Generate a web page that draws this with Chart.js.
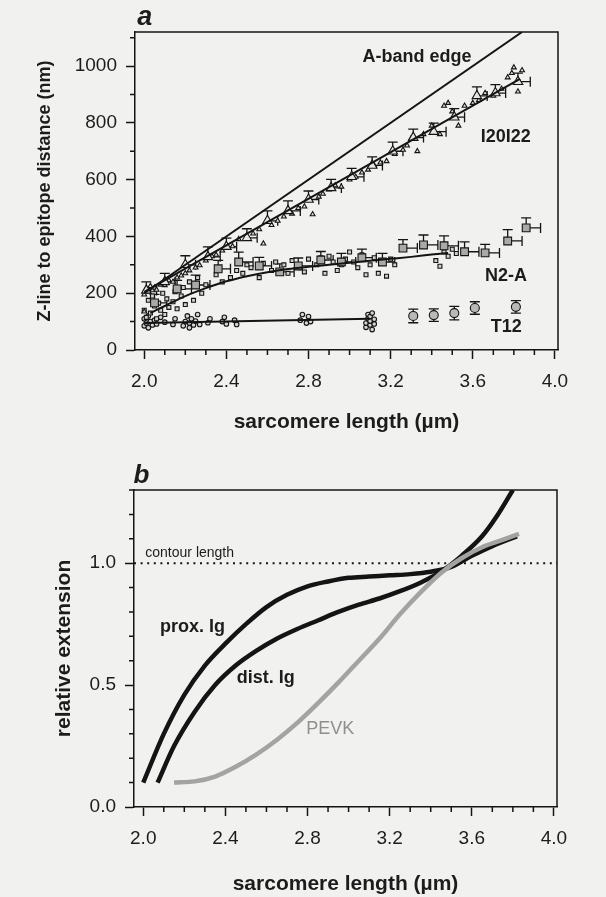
<!DOCTYPE html>
<html>
<head>
<meta charset="utf-8">
<script src="https://cdn.jsdelivr.net/npm/chart.js@4"></script>
<style>
  body { margin: 0; background: #f1f1ef; overflow: hidden; }
  #wrap { position: relative; width: 606px; height: 897px; }
  canvas { position: absolute; left: 0; }
</style>
</head>
<body>
<div id="wrap">
  <canvas id="chartA" width="606" height="445" style="top:0"></canvas>
  <canvas id="chartB" width="606" height="455" style="top:445px"></canvas>
</div>
<script>
// --- axis ticks ---
const xTickValues = [2.0, 2.1, 2.2, 2.3, 2.4, 2.5, 2.6, 2.7, 2.8, 2.9, 3.0, 3.1, 3.2, 3.3, 3.4, 3.5, 3.6, 3.7, 3.8, 3.9, 4.0];
const xTickLabels = ['2.0', '2.4', '2.8', '3.2', '3.6', '4.0'];
const yTickValuesA = [0, 100, 200, 300, 400, 500, 600, 700, 800, 900, 1000, 1100];
const yTickLabelsA = ['0', '200', '400', '600', '800', '1000'];
const yTickValuesB = [0, 0.1, 0.2, 0.3, 0.4, 0.5, 0.6, 0.7, 0.8, 0.9, 1.0, 1.1, 1.2, 1.3];
const yTickLabelsB = ['0.0', '0.5', '1.0'];

// --- panel a: fitted lines ---
const aBandX = [2.0, 3.84];
const aBandY = [200, 1120];
const i20FitX = [2.0, 3.83];
const i20FitY = [205, 955];
const n2aFitX = [2.03, 2.1, 2.2, 2.3, 2.4, 2.5, 2.6, 2.7, 2.8, 2.9, 3.0, 3.1, 3.2, 3.3, 3.4, 3.48];
const n2aFitY = [130, 155, 190, 218, 242, 260, 274, 285, 293, 300, 307, 314, 321, 328, 336, 342];
const t12FitX = [2.0, 3.1];
const t12FitY = [95, 110];

// --- panel a: means with error bars ---
const i20MeanX = [2.01, 2.10, 2.20, 2.31, 2.40, 2.50, 2.60, 2.70, 2.80, 2.91, 3.01, 3.11, 3.21, 3.31, 3.41, 3.51, 3.62, 3.71, 3.82];
const i20MeanY = [210, 240, 300, 328, 364, 395, 455, 490, 530, 571, 610, 650, 700, 748, 769, 820, 895, 905, 945];
const i20ErrUp = [30, 30, 32, 35, 30, 32, 35, 35, 30, 30, 30, 30, 32, 30, 30, 30, 32, 30, 30];
const i20ErrRight = [0.05, 0.05, 0.05, 0.06, 0.05, 0.05, 0.05, 0.06, 0.05, 0.05, 0.06, 0.05, 0.05, 0.05, 0.06, 0.05, 0.05, 0.05, 0.06];

const n2aMeanX = [2.05, 2.16, 2.25, 2.36, 2.46, 2.56, 2.66, 2.75, 2.86, 2.96, 3.06, 3.16, 3.26, 3.36, 3.46, 3.56, 3.66, 3.77, 3.86];
const n2aMeanY = [166, 215, 229, 286, 310, 296, 275, 296, 317, 310, 325, 310, 359, 370, 367, 346, 342, 384, 430];
const n2aErrUp = [30, 30, 35, 30, 35, 30, 28, 28, 30, 30, 30, 30, 30, 35, 35, 35, 30, 40, 35];
const n2aErrRight = [0.06, 0.07, 0.07, 0.06, 0.07, 0.06, 0.07, 0.07, 0.06, 0.07, 0.07, 0.06, 0.07, 0.07, 0.07, 0.07, 0.07, 0.07, 0.07];

const t12MeanX = [3.31, 3.41, 3.51, 3.61, 3.81];
const t12MeanY = [120, 123, 130, 148, 152];
const t12Err = [24, 22, 24, 22, 22];

// --- panel a: individual measurements ---
const i20PtsX = [2.00, 2.01, 2.02, 2.03, 2.04, 2.05, 2.06, 2.08, 2.10, 2.12, 2.14, 2.16, 2.18, 2.20, 2.22, 2.25, 2.27, 2.30, 2.33, 2.35, 2.38, 2.40, 2.43, 2.46, 2.50, 2.53, 2.56, 2.58, 2.62, 2.65, 2.68, 2.72, 2.75, 2.78, 2.82, 2.85, 2.87, 2.90, 2.93, 2.96, 3.00, 3.03, 3.06, 3.09, 3.12, 3.15, 3.18, 3.22, 3.26, 3.28, 3.30, 3.33, 3.36, 3.40, 3.44, 3.46, 3.48, 3.50, 3.53, 3.56, 3.60, 3.63, 3.66, 3.70, 3.74, 3.77, 3.79, 3.80, 3.82, 3.83, 3.84, 2.00];
const i20PtsY = [195, 215, 205, 225, 210, 220, 212, 230, 228, 245, 240, 255, 262, 270, 280, 290, 298, 315, 330, 335, 350, 360, 365, 390, 395, 410, 425, 375, 440, 455, 470, 480, 500, 505, 478, 540, 550, 565, 580, 575, 600, 610, 625, 635, 650, 660, 665, 690, 705, 720, 745, 700, 760, 790, 760, 860, 870, 840, 790, 860, 870, 880, 905, 895, 920, 960, 975, 995, 910, 940, 985, 135];

const n2aPtsX = [2.00, 2.01, 2.02, 2.03, 2.04, 2.05, 2.06, 2.07, 2.08, 2.09, 2.10, 2.11, 2.12, 2.14, 2.15, 2.16, 2.18, 2.19, 2.20, 2.22, 2.24, 2.26, 2.28, 2.30, 2.35, 2.38, 2.42, 2.45, 2.48, 2.50, 2.52, 2.56, 2.58, 2.62, 2.64, 2.68, 2.70, 2.72, 2.76, 2.78, 2.80, 2.84, 2.86, 2.88, 2.90, 2.92, 2.94, 2.96, 2.98, 3.00, 3.02, 3.04, 3.06, 3.08, 3.10, 3.12, 3.14, 3.15, 3.18, 3.20, 3.22, 3.42, 3.44, 3.46, 3.48, 3.50, 3.52];
const n2aPtsY = [140, 115, 175, 130, 190, 155, 110, 165, 140, 200, 125, 180, 150, 170, 205, 145, 190, 220, 160, 240, 175, 255, 200, 230, 265, 240, 255, 280, 270, 300, 290, 255, 305, 280, 310, 300, 270, 315, 290, 275, 320, 300, 325, 270, 330, 310, 280, 300, 320, 345, 310, 290, 335, 265, 300, 325, 270, 315, 260, 320, 300, 315, 295, 345, 330, 355, 340];

const t12PtsX = [2.00, 2.00, 2.01, 2.02, 2.02, 2.03, 2.04, 2.05, 2.06, 2.08, 2.10, 2.14, 2.15, 2.19, 2.20, 2.21, 2.22, 2.22, 2.23, 2.24, 2.25, 2.26, 2.27, 2.31, 2.32, 2.38, 2.39, 2.40, 2.44, 2.45, 2.76, 2.77, 2.79, 2.80, 2.81, 3.08, 3.08, 3.09, 3.09, 3.10, 3.10, 3.10, 3.11, 3.11, 3.12, 3.12];
const t12PtsY = [85, 110, 95, 120, 78, 100, 88, 105, 92, 115, 98, 90, 110, 85, 100, 120, 78, 95, 110, 88, 102, 125, 90, 96, 110, 100, 115, 92, 105, 90, 105, 125, 95, 118, 100, 80, 95, 110, 125, 88, 102, 118, 72, 130, 92, 108];

// --- panel b: relative extension curves ---
const contourLength = 1.0;
const proxX = [2.0, 2.1, 2.2, 2.3, 2.4, 2.5, 2.6, 2.7, 2.8, 2.9, 3.0, 3.1, 3.2, 3.3, 3.4, 3.5, 3.6, 3.7, 3.82];
const proxY = [0.10, 0.30, 0.46, 0.58, 0.67, 0.75, 0.82, 0.87, 0.905, 0.925, 0.94, 0.945, 0.95, 0.955, 0.965, 0.985, 1.03, 1.07, 1.11];
const distX = [2.07, 2.15, 2.25, 2.35, 2.45, 2.55, 2.65, 2.75, 2.85, 2.95, 3.05, 3.15, 3.25, 3.35, 3.45, 3.55, 3.65, 3.72, 3.80];
const distY = [0.10, 0.25, 0.39, 0.50, 0.58, 0.64, 0.69, 0.73, 0.765, 0.80, 0.83, 0.855, 0.885, 0.92, 0.965, 1.03, 1.11, 1.19, 1.30];
const pevkX = [2.15, 2.25, 2.35, 2.45, 2.55, 2.65, 2.75, 2.85, 2.95, 3.05, 3.15, 3.25, 3.35, 3.45, 3.55, 3.65, 3.75, 3.83];
const pevkY = [0.10, 0.105, 0.125, 0.165, 0.215, 0.275, 0.345, 0.425, 0.51, 0.60, 0.69, 0.79, 0.88, 0.96, 1.02, 1.065, 1.095, 1.12];

const X_MIN = 1.955, X_MAX = 4.015;
const FONT = 'Liberation Sans, Arial, sans-serif';
const INK = '#141414';
const TXT = '#1c1c1c';

function pts(xs, ys) { return xs.map((x, i) => ({ x: x, y: ys[i] })); }

function labelFor(v, labels, digits) {
  const s = digits ? v.toFixed(digits) : String(Math.round(v));
  return labels.includes(s) ? s : '';
}

// --- plugins ---
const frame = {
  id: 'frame',
  afterDraw(chart) {
    const { ctx, chartArea: a } = chart;
    ctx.save();
    ctx.strokeStyle = INK;
    ctx.lineWidth = 1.5;
    ctx.beginPath();
    ctx.moveTo(a.left, a.top);
    ctx.lineTo(a.right, a.top);
    ctx.lineTo(a.right, a.bottom);
    ctx.stroke();
    ctx.restore();
  }
};

const minorTicks = {
  id: 'minorTicks',
  afterDraw(chart, args, opts) {
    const ctx = chart.ctx;
    const xs = chart.scales.x, ys = chart.scales.y;
    ctx.save();
    ctx.strokeStyle = INK;
    ctx.lineWidth = 1.5;
    ctx.beginPath();
    opts.x.forEach(v => {
      if (labelFor(v, opts.xLabels, 1)) return;
      const p = xs.getPixelForValue(v);
      ctx.moveTo(p, xs.top);
      ctx.lineTo(p, xs.top + 5);
    });
    opts.y.forEach(v => {
      if (labelFor(v, opts.yLabels, opts.yDigits)) return;
      const p = ys.getPixelForValue(v);
      ctx.moveTo(ys.right, p);
      ctx.lineTo(ys.right - 5, p);
    });
    ctx.stroke();
    ctx.restore();
  }
};

const errorBars = {
  id: 'errorBars',
  beforeDatasetsDraw(chart) {
    const ctx = chart.ctx;
    const xs = chart.scales.x, ys = chart.scales.y;
    ctx.save();
    ctx.strokeStyle = INK;
    ctx.lineWidth = 1.3;
    chart.data.datasets.forEach((ds, i) => {
      if (!ds.errUp && !ds.errRight) return;
      const meta = chart.getDatasetMeta(i);
      meta.data.forEach((pt, j) => {
        const d = ds.data[j];
        ctx.beginPath();
        if (ds.errUp) {
          const yt = ys.getPixelForValue(d.y + ds.errUp[j]);
          ctx.moveTo(pt.x, pt.y); ctx.lineTo(pt.x, yt);
          ctx.moveTo(pt.x - 5, yt); ctx.lineTo(pt.x + 5, yt);
        }
        if (ds.errDown) {
          const yb = ys.getPixelForValue(d.y - ds.errDown[j]);
          ctx.moveTo(pt.x, pt.y); ctx.lineTo(pt.x, yb);
          ctx.moveTo(pt.x - 5, yb); ctx.lineTo(pt.x + 5, yb);
        }
        if (ds.errRight) {
          const xr = xs.getPixelForValue(d.x + ds.errRight[j]);
          ctx.moveTo(pt.x, pt.y); ctx.lineTo(xr, pt.y);
          ctx.moveTo(xr, pt.y - 5); ctx.lineTo(xr, pt.y + 5);
        }
        ctx.stroke();
      });
    });
    ctx.restore();
  }
};

const textLabels = {
  id: 'textLabels',
  afterDraw(chart, args, opts) {
    const ctx = chart.ctx;
    const xs = chart.scales.x, ys = chart.scales.y;
    ctx.save();
    opts.items.forEach(t => {
      ctx.font = t.font;
      ctx.fillStyle = t.color || TXT;
      ctx.textAlign = 'left';
      ctx.textBaseline = t.baseline || 'middle';
      ctx.fillText(t.text, xs.getPixelForValue(t.x), ys.getPixelForValue(t.y));
    });
    ctx.restore();
  }
};

function xAxis(height, titlePad) {
  return {
    type: 'linear', min: X_MIN, max: X_MAX,
    afterBuildTicks: s => { s.ticks = xTickValues.map(v => ({ value: v })); },
    afterFit: s => { s.height = height; },
    ticks: {
      autoSkip: false, maxRotation: 0, padding: 11, color: TXT,
      font: { family: FONT, size: 19 },
      callback: v => labelFor(v, xTickLabels, 1)
    },
    grid: {
      drawOnChartArea: false, tickLength: 9, tickWidth: 1.5,
      tickColor: c => labelFor(c.tick.value, xTickLabels, 1) ? INK : 'rgba(0,0,0,0)'
    },
    border: { color: INK, width: 1.5 },
    title: {
      display: true, text: 'sarcomere length (µm)', color: TXT,
      font: { family: FONT, size: 21, weight: 'bold' },
      padding: { top: 0, bottom: titlePad }
    }
  };
}

function yAxis(min, max, values, labels, digits, width, title, titleSize, titlePad) {
  return {
    type: 'linear', min: min, max: max,
    afterBuildTicks: s => { s.ticks = values.map(v => ({ value: v })); },
    afterFit: s => { s.width = width; },
    ticks: {
      autoSkip: false, padding: 9, color: TXT,
      font: { family: FONT, size: 19 },
      callback: v => labelFor(v, labels, digits)
    },
    grid: {
      drawOnChartArea: false, tickLength: 9, tickWidth: 1.5,
      tickColor: c => labelFor(c.tick.value, labels, digits) ? INK : 'rgba(0,0,0,0)'
    },
    border: { color: INK, width: 1.5 },
    title: {
      display: true, text: title, color: TXT,
      font: { family: FONT, size: titleSize, weight: 'bold' },
      padding: { top: titlePad, bottom: 0 }
    }
  };
}

function line(xs, ys, color, width, order) {
  return {
    data: pts(xs, ys), showLine: true, borderColor: color, borderWidth: width,
    pointRadius: 0, cubicInterpolationMode: 'monotone', order: order
  };
}

function marks(xs, ys, style, radius, fill, order) {
  return {
    data: pts(xs, ys), showLine: false, pointStyle: style, pointRadius: radius,
    backgroundColor: fill, borderColor: INK, borderWidth: 1.1, order: order
  };
}

const common = {
  responsive: false, animation: false, devicePixelRatio: 1,
  plugins: { legend: { display: false }, tooltip: { enabled: false } }
};

// --- panel a ---
const i20Mean = marks(i20MeanX, i20MeanY, 'triangle', 5.5, '#e6e6e4', 1);
i20Mean.errUp = i20ErrUp; i20Mean.errRight = i20ErrRight;
const n2aMean = marks(n2aMeanX, n2aMeanY, 'rect', 5.5, '#a9a9a7', 1);
n2aMean.errUp = n2aErrUp; n2aMean.errRight = n2aErrRight;
const t12Mean = marks(t12MeanX, t12MeanY, 'circle', 4.5, '#b9b9b7', 1);
t12Mean.errUp = t12Err; t12Mean.errDown = t12Err;

new Chart(document.getElementById('chartA'), {
  type: 'scatter',
  data: {
    datasets: [
      line(aBandX, aBandY, INK, 2, 0),
      line(i20FitX, i20FitY, INK, 2, 0),
      line(n2aFitX, n2aFitY, INK, 2, 0),
      line(t12FitX, t12FitY, INK, 2, 0),
      marks(i20PtsX, i20PtsY, 'triangle', 2.8, '#dcdcda', 2),
      marks(n2aPtsX, n2aPtsY, 'rect', 2.8, '#d0d0ce', 2),
      marks(t12PtsX, t12PtsY, 'circle', 2.3, '#d4d4d2', 2),
      i20Mean, n2aMean, t12Mean
    ]
  },
  options: Object.assign({}, common, {
    layout: { padding: { left: 0, right: 48, top: 32, bottom: 0 } },
    scales: {
      x: xAxis(95, 10),
      y: yAxis(0, 1120, yTickValuesA, yTickLabelsA, 0, 135, 'Z-line to epitope distance (nm)', 18, 34)
    },
    plugins: Object.assign({}, common.plugins, {
      minorTicks: { x: xTickValues, xLabels: xTickLabels, y: yTickValuesA, yLabels: yTickLabelsA, yDigits: 0 },
      textLabels: {
        items: [
          { text: 'a', x: 1.966, y: 1146, font: 'italic bold 27px ' + FONT, baseline: 'alphabetic' },
          { text: 'A-band edge', x: 3.063, y: 1033, font: 'bold 18px ' + FONT },
          { text: 'I20I22', x: 3.639, y: 751, font: 'bold 18px ' + FONT },
          { text: 'N2-A', x: 3.659, y: 261, font: 'bold 18px ' + FONT },
          { text: 'T12', x: 3.688, y: 81, font: 'bold 18px ' + FONT }
        ]
      }
    })
  }),
  plugins: [frame, minorTicks, errorBars, textLabels]
});

// --- panel b ---
const contour = line([X_MIN, X_MAX], [contourLength, contourLength], INK, 2, 3);
contour.borderDash = [2, 4.6];

new Chart(document.getElementById('chartB'), {
  type: 'scatter',
  data: {
    datasets: [
      contour,
      line(proxX, proxY, INK, 4.5, 1),
      line(distX, distY, INK, 4.5, 1),
      line(pevkX, pevkY, '#a3a3a1', 4.5, 0)
    ]
  },
  options: Object.assign({}, common, {
    layout: { padding: { left: 0, right: 49, top: 45, bottom: 0 } },
    scales: {
      x: xAxis(93, 3),
      y: yAxis(0, 1.3, yTickValuesB, yTickLabelsB, 1, 134, 'relative extension', 21, 52)
    },
    plugins: Object.assign({}, common.plugins, {
      minorTicks: { x: xTickValues, xLabels: xTickLabels, y: yTickValuesB, yLabels: yTickLabelsB, yDigits: 1 },
      textLabels: {
        items: [
          { text: 'b', x: 1.952, y: 1.328, font: 'italic bold 26px ' + FONT, baseline: 'alphabetic' },
          { text: 'contour length', x: 2.01, y: 1.041, font: '14px ' + FONT },
          { text: 'prox. Ig', x: 2.082, y: 0.738, font: 'bold 18px ' + FONT },
          { text: 'dist. Ig', x: 2.455, y: 0.529, font: 'bold 18px ' + FONT },
          { text: 'PEVK', x: 2.794, y: 0.32, font: '18px ' + FONT, color: '#8f8f8d' }
        ]
      }
    })
  }),
  plugins: [frame, minorTicks, textLabels]
});
</script>
</body>
</html>
